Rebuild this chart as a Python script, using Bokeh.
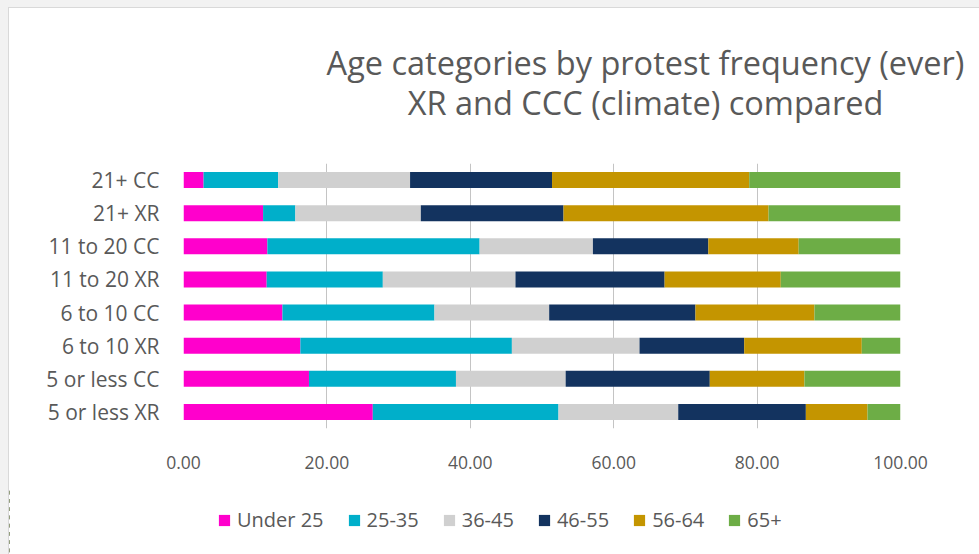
from bokeh.plotting import figure
from bokeh.layouts import column
from bokeh.models import ColumnDataSource, Legend, LegendItem, Label, FixedTicker
from bokeh.embed import file_html
from bokeh.resources import INLINE

categories = ["5 or less XR", "5 or less CC", "6 to 10 XR", "6 to 10 CC",
              "11 to 20 XR", "11 to 20 CC", "21+ XR", "21+ CC"]
groups = ["Under 25", "25-35", "36-45", "46-55", "56-64", "65+"]
under25 = [26.4, 17.5, 16.3, 13.8, 11.6, 11.7, 11.1, 2.8]
age25_35 = [25.9, 20.5, 29.5, 21.2, 16.2, 29.6, 4.5, 10.4]
age36_45 = [16.7, 15.3, 17.8, 16.0, 18.5, 15.8, 17.5, 18.4]
age46_55 = [17.8, 20.1, 14.6, 20.4, 20.8, 16.1, 19.9, 19.8]
age56_64 = [8.6, 13.2, 16.4, 16.6, 16.2, 12.6, 28.6, 27.5]
age65p = [4.6, 13.4, 5.4, 12.0, 16.7, 14.2, 18.4, 21.1]
x_ticks = [0, 20, 40, 60, 80, 100]
title_lines = ["Age categories by protest frequency (ever)", "XR and CCC (climate) compared"]

colors = ["#FF00CC", "#00AFCA", "#D0D0D0", "#13335F", "#C49500", "#6DAD46"]
FONT = "Open Sans"
TXT = "#595959"
W = 970
LEFT = 174

source = ColumnDataSource(dict(cat=categories, **{
    "Under 25": under25, "25-35": age25_35, "36-45": age36_45,
    "46-55": age46_55, "56-64": age56_64, "65+": age65p}))


def strip(height, **kw):
    f = figure(width=W, height=height, output_backend="svg", toolbar_location=None,
               x_axis_location=None, y_axis_location=None, min_border=0, **kw)
    f.grid.visible = False
    f.outline_line_color = None
    aligned = True
    if "frame_align" in f.properties():
        f.frame_align = False
        aligned = False
    return f, (LEFT if aligned else 0)


# --- title strip
head, dx = strip(150, x_range=(0, 1), y_range=(0, 1))
for line, yy in zip(title_lines, [96, 56]):
    head.add_layout(Label(x=636 - dx, y=yy, x_units="screen", y_units="screen",
                          text=line, text_align="center", text_baseline="middle",
                          text_font=FONT, text_font_size="32.5px", text_color=TXT))

# --- main chart
p = figure(frame_width=717, frame_height=265, y_range=categories, x_range=(0, 100),
           output_backend="svg", toolbar_location=None,
           min_border_left=LEFT, min_border_right=W - LEFT - 717, min_border_top=5,
           min_border_bottom=60)
p.outline_line_color = None
p.y_range.range_padding = 0

p.hbar_stack(groups, y="cat", height=0.48, color=colors, line_color=None, source=source)

p.xgrid.grid_line_color = "#C4C4C4"
p.ygrid.grid_line_color = None
p.xaxis.ticker = FixedTicker(ticks=x_ticks)
p.xaxis.major_label_overrides = {t: f"{t:.2f}" for t in x_ticks}
for ax in (p.xaxis[0], p.yaxis[0]):
    ax.axis_line_color = None
    ax.major_tick_line_color = None
    ax.minor_tick_line_color = None
    ax.major_label_text_font = FONT
    ax.major_label_text_color = TXT
p.xaxis.major_label_text_font_size = "17.5px"
p.yaxis.major_label_text_font_size = "21px"
p.xaxis.major_label_standoff = 21
p.yaxis.major_label_standoff = 18

# --- legend strip: the same stacked series, scrolled out of view, feed the legend
foot, dx2 = strip(66, x_range=(200, 300), y_range=categories)
stack = foot.hbar_stack(groups, y="cat", height=0.48, color=colors, line_color=None,
                        source=source)
legend = Legend(items=[LegendItem(label=g, renderers=[r]) for g, r in zip(groups, stack)],
                orientation="horizontal", location=(208 - dx2, 21),
                label_text_font=FONT, label_text_font_size="20px",
                label_text_color=TXT, glyph_width=14, glyph_height=14,
                spacing=23, label_standoff=6, border_line_color=None,
                background_fill_alpha=0, padding=0, margin=0)
foot.add_layout(legend, "center")

chart = column(head, p, foot, spacing=0,
               styles={"border": "1px solid #D9D9D9", "background-color": "white"})
page = column(chart, styles={"background-color": "#F2F2F2", "padding-left": "8px",
                             "padding-top": "7px"})

open("out.html", "w").write(file_html(page, INLINE))
